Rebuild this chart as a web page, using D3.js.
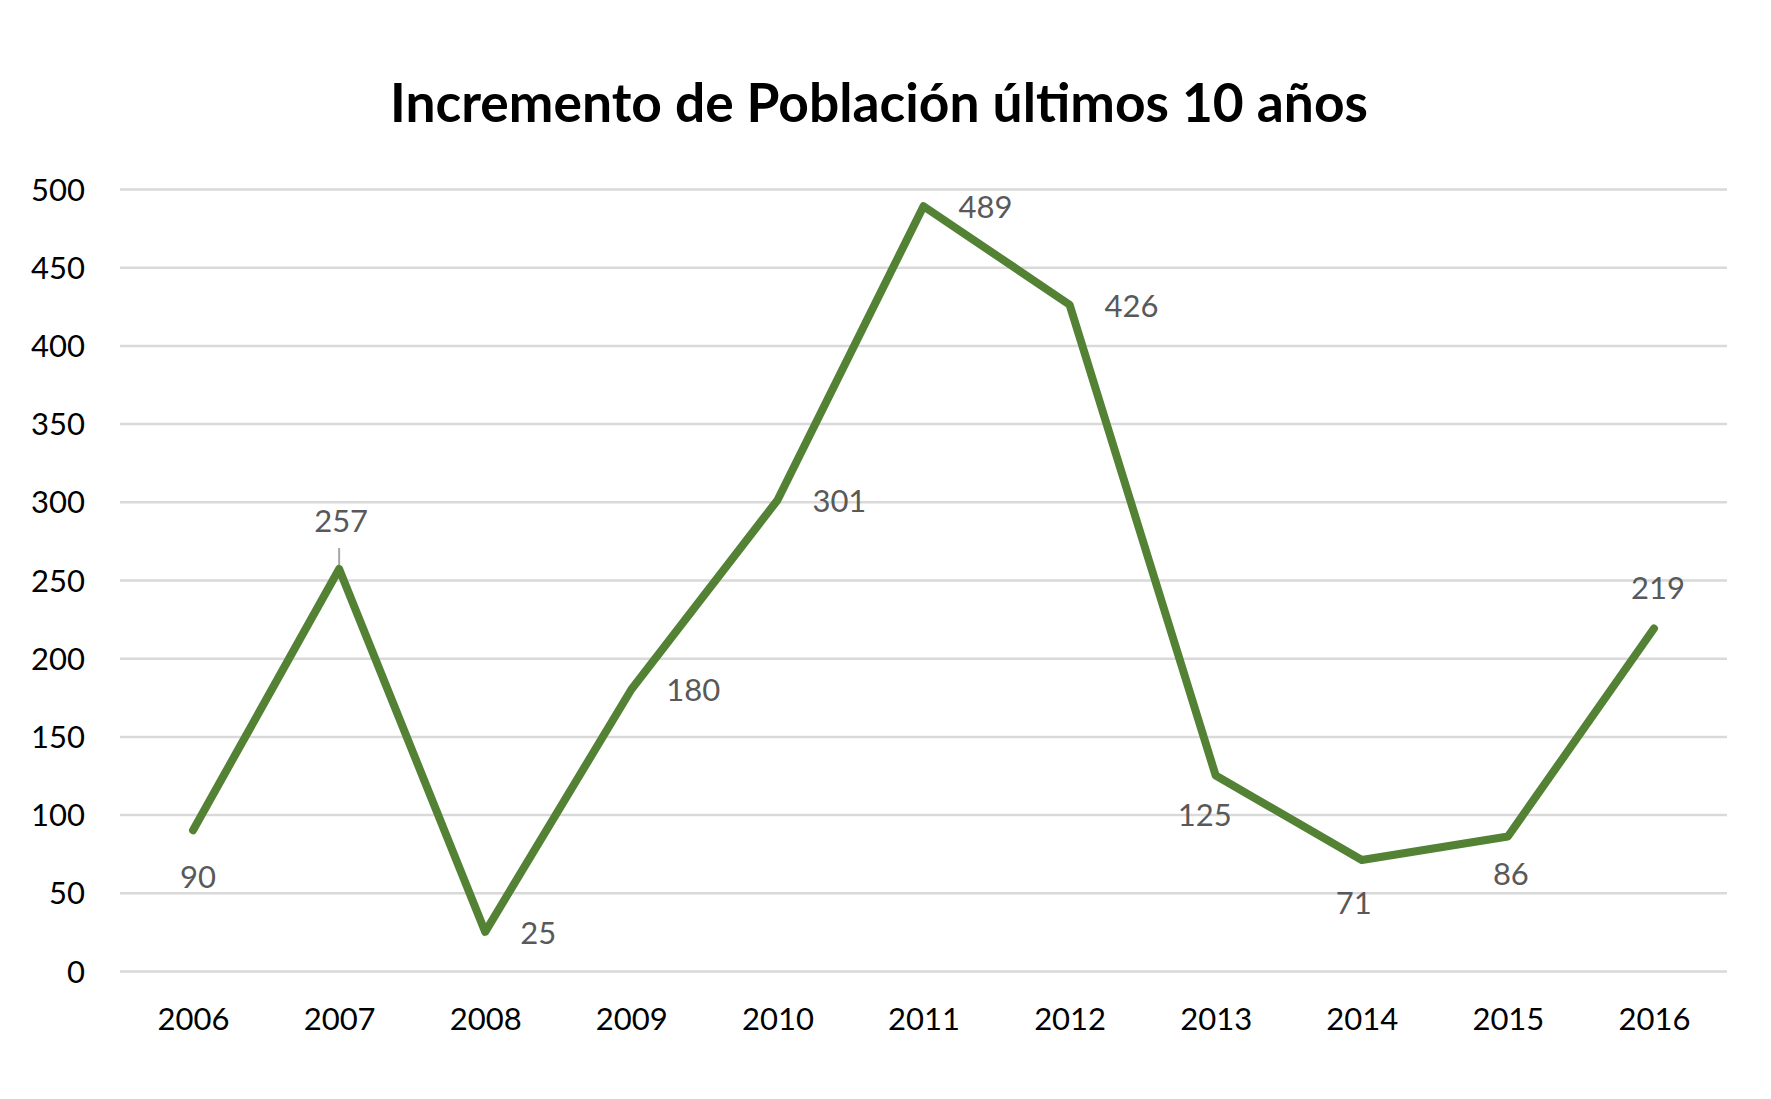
<!DOCTYPE html>
<html>
<head>
<meta charset="utf-8">
<script src="https://cdn.jsdelivr.net/npm/d3@7"></script>
<style>
  body { margin: 0; background: #fff; }
  text { font-family: Lato, "Noto Sans", sans-serif; }
</style>
</head>
<body>
<script>
var years = ["2006", "2007", "2008", "2009", "2010", "2011", "2012", "2013", "2014", "2015", "2016"];
var values = [90, 257, 25, 180, 301, 489, 426, 125, 71, 86, 219];
var yTicks = [0, 50, 100, 150, 200, 250, 300, 350, 400, 450, 500];
// where each data label sits relative to its point, with small nudges
var labelPos = ["below", "above", "right", "right", "right", "right", "right", "below", "below", "below", "above"];
var labelNudgeX = [5, 2, 0, 0, 0, 0, 0, -11, -8, 3, 4];
var labelNudgeY = [6, -4, 0, 0, 0, 0, 0, -2, 2, -3, 4];

var width = 1771;
var height = 1099;
var margin = { top: 189, right: 44, bottom: 128, left: 120 };

var svg = d3.select("body").append("svg")
            .attr("width", width)
            .attr("height", height);

var x = d3.scalePoint()
          .domain(years)
          .range([margin.left, width - margin.right])
          .padding(0.5);

var y = d3.scaleLinear()
          .domain([0, 500])
          .range([height - margin.bottom, margin.top]);

// title
svg.append("text")
   .text("Incremento de Población últimos 10 años")
   .attr("x", 879)
   .attr("y", 122)
   .attr("text-anchor", "middle")
   .attr("font-size", "54px")
   .attr("font-weight", "bold")
   .attr("fill", "#000")
   .attr("textLength", 978)
   .attr("lengthAdjust", "spacingAndGlyphs");

// gridlines + y labels
var yAxis = d3.axisLeft(y)
              .tickValues(yTicks)
              .tickSize(-(width - margin.left - margin.right))
              .tickPadding(35);

var gy = svg.append("g")
            .attr("transform", "translate(" + margin.left + ",0)")
            .call(yAxis);
gy.select(".domain").remove();
gy.selectAll(".tick line")
  .attr("stroke", "#d9d9d9")
  .attr("stroke-width", 2.5);
gy.selectAll(".tick text")
  .attr("font-size", "31px")
  .attr("fill", "#000")
  .attr("dy", "0.36em");

// x labels
var xAxis = d3.axisBottom(x).tickSize(0).tickPadding(37);
var gx = svg.append("g")
            .attr("transform", "translate(0," + y(0) + ")")
            .call(xAxis);
gx.select(".domain").remove();
gx.selectAll(".tick text")
  .attr("font-size", "31px")
  .attr("fill", "#000");

// leader line for the 2007 label
svg.append("line")
   .attr("x1", x("2007"))
   .attr("x2", x("2007"))
   .attr("y1", y(values[1]) - 21)
   .attr("y2", y(values[1]) - 4)
   .attr("stroke", "#a6a6a6")
   .attr("stroke-width", 2);

// the line
var line = d3.line()
             .x(function(d, i) { return x(years[i]); })
             .y(function(d) { return y(d); });

svg.append("path")
   .datum(values)
   .attr("d", line)
   .attr("fill", "none")
   .attr("stroke", "#548235")
   .attr("stroke-width", 8)
   .attr("stroke-linejoin", "round")
   .attr("stroke-linecap", "round");

// data labels
svg.selectAll("text.lbl")
   .data(values)
   .enter()
   .append("text")
   .attr("class", "lbl")
   .text(function(d) { return d; })
   .attr("x", function(d, i) {
     var px = x(years[i]) + labelNudgeX[i];
     if (labelPos[i] === "right") return px + 35;
     return px;
   })
   .attr("y", function(d, i) {
     var py = y(d) + labelNudgeY[i];
     if (labelPos[i] === "right") return py + 12;
     if (labelPos[i] === "below") return py + 52;
     return py - 33;
   })
   .attr("text-anchor", function(d, i) { return labelPos[i] === "right" ? "start" : "middle"; })
   .attr("font-size", "31px")
   .attr("fill", "#595959");
</script>
</body>
</html>
